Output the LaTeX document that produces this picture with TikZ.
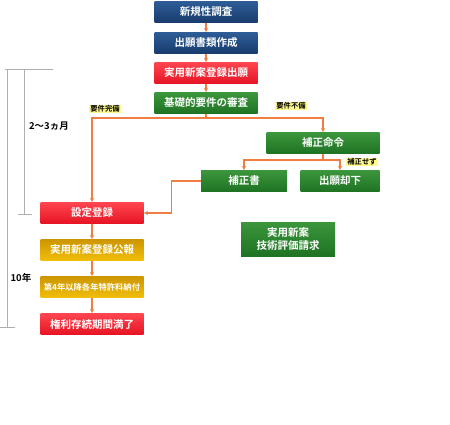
\documentclass[tikz,border=0pt]{standalone}
\usepackage{fontspec}
\setmainfont{Noto Sans CJK JP}[BoldFont={Noto Sans CJK JP Bold}]
\usetikzlibrary{arrows.meta,positioning,calc}
\definecolor{NavyTop}{RGB}{46,92,150}
\definecolor{NavyBot}{RGB}{24,60,110}
\definecolor{RedTop}{RGB}{255,70,80}
\definecolor{RedBot}{RGB}{230,20,35}
\definecolor{GreenTop}{RGB}{60,150,60}
\definecolor{GreenBot}{RGB}{30,115,35}
\definecolor{GoldTop}{RGB}{205,150,0}
\definecolor{GoldBot}{RGB}{240,190,10}
\definecolor{Wire}{RGB}{240,125,65}
\definecolor{Tag}{RGB}{255,250,140}
\definecolor{Bracket}{RGB}{175,175,175}
\tikzset{
  >=Latex,
  box/.style={rectangle,align=center,text=white,font=\bfseries\fontsize{10.5}{12.5}\selectfont,minimum width=103pt,minimum height=21pt,inner sep=1pt},
  navy/.style={box,top color=NavyTop,bottom color=NavyBot},
  redbox/.style={box,top color=RedTop,bottom color=RedBot},
  greenbox/.style={box,top color=GreenTop,bottom color=GreenBot},
  goldbox/.style={box,top color=GoldTop,bottom color=GoldBot},
  tag/.style={fill=Tag,inner sep=1pt,font=\bfseries\fontsize{7.3}{8}\selectfont},
  period/.style={font=\bfseries\fontsize{9.5}{10}\selectfont},
  wire/.style={draw=Wire,line width=1.1pt},
  flow/.style={wire,-{Latex[length=4pt,width=4.5pt]}},
  span/.style={draw=Bracket,line width=0.6pt}
}
\begin{document}
\begin{tikzpicture}[x=1pt,y=-1pt]
  \useasboundingbox (0,0) rectangle (450,425);
  % main column
  \node[navy] (survey) at (206,12) {新規性調査};
  \node[navy] (docs) at (206,43) {出願書類作成};
  \node[redbox] (apply) at (206,73) {実用新案登録出願};
  \node[greenbox] (exam) at (206,103) {基礎的要件の審査};
  \node[greenbox,minimum width=113pt] (order) at (323,143) {補正命令};
  \node[greenbox,minimum width=86pt] (amend) at (244,181) {補正書};
  \node[greenbox,minimum width=79pt] (reject) at (340,181) {出願却下};
  \node[redbox] (reg) at (92,213) {設定登録};
  \node[goldbox] (gazette) at (92,250) {実用新案登録公報};
  \node[goldbox,font=\bfseries\fontsize{8.3}{10}\selectfont] (fee) at (92,287) {第4年以降各年特許料納付};
  \node[greenbox,minimum width=94pt,minimum height=34pt] (evalreq) at (288,239) {実用新案\\技術評価請求};
  \node[redbox] (expire) at (92,324) {権利存続期間満了};
  % labels
  \node[tag] (ok) at (105,109) {要件完備};
  \node[tag] (ng) at (291,106) {要件不備};
  \node[tag] (noamend) at (362,162) {補正せず};
  % connectors
  \coordinate (split) at (206,118);
  \coordinate (split2) at (323,160);
  \draw[flow] (survey)--(docs);
  \draw[flow] (docs)--(apply);
  \draw[flow] (apply)--(exam);
  \draw[wire] (exam.south)--(split);
  \draw[flow] (split)-|(reg.north);
  \draw[flow] (split)-|(order.north);
  \draw[wire] (order.south)--(split2);
  \draw[flow] (split2)-|(amend.north);
  \draw[flow] (split2)-|(reject.north);
  \draw[flow] (amend.west)--++(-29,0)|-(reg.east);
  \draw[flow] (reg)--(gazette);
  \draw[flow] (gazette)--(fee);
  \draw[flow] (fee)--(expire);
  % periods
  \draw[span] (5,69)--(53,69);
  \draw[span] (7,69)--(7,327);
  \draw[span] (0,327)--(15,327);
  \draw[span] (24,69)--(24,214);
  \draw[span] (18,214)--(32,214);
  \node[period] (short) at (49,126) {2〜3ヵ月};
  \node[period] (long) at (21,278) {10年};
\end{tikzpicture}
\end{document}
